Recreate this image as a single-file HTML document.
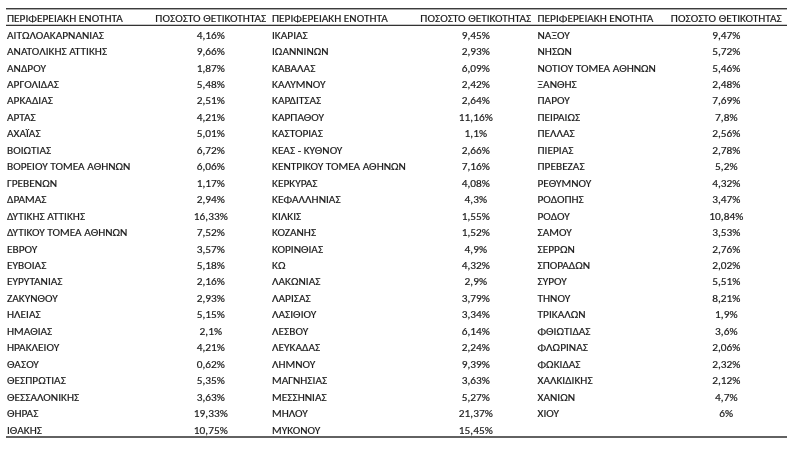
<!DOCTYPE html>
<html><head><meta charset="utf-8"><style>
html,body{margin:0;padding:0;background:#fff;}
body{width:812px;height:450px;position:relative;overflow:hidden;font-family:"Carlito","Liberation Sans",sans-serif;font-size:11.35px;color:#1a1a1a;}
#w{position:absolute;left:0;top:0;width:812px;height:450px;}
.t{position:absolute;white-space:nowrap;line-height:16.45px;height:16.45px;transform:scaleY(0.96);transform-origin:0 12.1px;-webkit-text-stroke:0.18px #1a1a1a;}
.c{position:absolute;white-space:nowrap;line-height:16.45px;height:16.45px;width:130px;text-align:center;transform:scaleY(0.96);transform-origin:0 12.1px;-webkit-text-stroke:0.18px #1a1a1a;}
.ln{position:absolute;left:6px;width:781px;height:1px;background:#3a3a3a;}
</style></head><body><div id="w">

<div class="ln" style="top:8px;height:1px;background:#3c3c3c"></div>
<div class="ln" style="top:9px;height:1px;background:#a8a8a8"></div>
<div class="ln" style="top:24px;height:1px;background:#c8c8c8"></div>
<div class="ln" style="top:25px;height:1px;background:#333333"></div>
<div class="ln" style="top:436px;height:2px;background:#626262"></div>
<div class="t" style="left:7px;top:10.0px">ΠΕΡΙΦΕΡΕΙΑΚΗ ΕΝΟΤΗΤΑ</div>
<div class="c" style="left:145.8px;top:10.0px">ΠΟΣΟΣΤΟ ΘΕΤΙΚΟΤΗΤΑΣ</div>
<div class="t" style="left:272px;top:10.0px">ΠΕΡΙΦΕΡΕΙΑΚΗ ΕΝΟΤΗΤΑ</div>
<div class="c" style="left:410.8px;top:10.0px">ΠΟΣΟΣΤΟ ΘΕΤΙΚΟΤΗΤΑΣ</div>
<div class="t" style="left:537.5px;top:10.0px">ΠΕΡΙΦΕΡΕΙΑΚΗ ΕΝΟΤΗΤΑ</div>
<div class="c" style="left:661.3px;top:10.0px">ΠΟΣΟΣΤΟ ΘΕΤΙΚΟΤΗΤΑΣ</div>
<div class="t" style="left:7px;top:26.6px">ΑΙΤΩΛΟΑΚΑΡΝΑΝΙΑΣ</div>
<div class="c" style="left:145.8px;top:26.6px">4,16%</div>
<div class="t" style="left:7px;top:43.058px">ΑΝΑΤΟΛΙΚΗΣ ΑΤΤΙΚΗΣ</div>
<div class="c" style="left:145.8px;top:43.058px">9,66%</div>
<div class="t" style="left:7px;top:59.516px">ΑΝΔΡΟΥ</div>
<div class="c" style="left:145.8px;top:59.516px">1,87%</div>
<div class="t" style="left:7px;top:75.974px">ΑΡΓΟΛΙΔΑΣ</div>
<div class="c" style="left:145.8px;top:75.974px">5,48%</div>
<div class="t" style="left:7px;top:92.432px">ΑΡΚΑΔΙΑΣ</div>
<div class="c" style="left:145.8px;top:92.432px">2,51%</div>
<div class="t" style="left:7px;top:108.89px">ΑΡΤΑΣ</div>
<div class="c" style="left:145.8px;top:108.89px">4,21%</div>
<div class="t" style="left:7px;top:125.348px">ΑΧΑΪΑΣ</div>
<div class="c" style="left:145.8px;top:125.348px">5,01%</div>
<div class="t" style="left:7px;top:141.806px">ΒΟΙΩΤΙΑΣ</div>
<div class="c" style="left:145.8px;top:141.806px">6,72%</div>
<div class="t" style="left:7px;top:158.264px">ΒΟΡΕΙΟΥ ΤΟΜΕΑ ΑΘΗΝΩΝ</div>
<div class="c" style="left:145.8px;top:158.264px">6,06%</div>
<div class="t" style="left:7px;top:174.722px">ΓΡΕΒΕΝΩΝ</div>
<div class="c" style="left:145.8px;top:174.722px">1,17%</div>
<div class="t" style="left:7px;top:191.18px">ΔΡΑΜΑΣ</div>
<div class="c" style="left:145.8px;top:191.18px">2,94%</div>
<div class="t" style="left:7px;top:207.638px">ΔΥΤΙΚΗΣ ΑΤΤΙΚΗΣ</div>
<div class="c" style="left:145.8px;top:207.638px">16,33%</div>
<div class="t" style="left:7px;top:224.096px">ΔΥΤΙΚΟΥ ΤΟΜΕΑ ΑΘΗΝΩΝ</div>
<div class="c" style="left:145.8px;top:224.096px">7,52%</div>
<div class="t" style="left:7px;top:240.554px">ΕΒΡΟΥ</div>
<div class="c" style="left:145.8px;top:240.554px">3,57%</div>
<div class="t" style="left:7px;top:257.012px">ΕΥΒΟΙΑΣ</div>
<div class="c" style="left:145.8px;top:257.012px">5,18%</div>
<div class="t" style="left:7px;top:273.47px">ΕΥΡΥΤΑΝΙΑΣ</div>
<div class="c" style="left:145.8px;top:273.47px">2,16%</div>
<div class="t" style="left:7px;top:289.928px">ΖΑΚΥΝΘΟΥ</div>
<div class="c" style="left:145.8px;top:289.928px">2,93%</div>
<div class="t" style="left:7px;top:306.386px">ΗΛΕΙΑΣ</div>
<div class="c" style="left:145.8px;top:306.386px">5,15%</div>
<div class="t" style="left:7px;top:322.844px">ΗΜΑΘΙΑΣ</div>
<div class="c" style="left:145.8px;top:322.844px">2,1%</div>
<div class="t" style="left:7px;top:339.302px">ΗΡΑΚΛΕΙΟΥ</div>
<div class="c" style="left:145.8px;top:339.302px">4,21%</div>
<div class="t" style="left:7px;top:355.76px">ΘΑΣΟΥ</div>
<div class="c" style="left:145.8px;top:355.76px">0,62%</div>
<div class="t" style="left:7px;top:372.218px">ΘΕΣΠΡΩΤΙΑΣ</div>
<div class="c" style="left:145.8px;top:372.218px">5,35%</div>
<div class="t" style="left:7px;top:388.676px">ΘΕΣΣΑΛΟΝΙΚΗΣ</div>
<div class="c" style="left:145.8px;top:388.676px">3,63%</div>
<div class="t" style="left:7px;top:405.134px">ΘΗΡΑΣ</div>
<div class="c" style="left:145.8px;top:405.134px">19,33%</div>
<div class="t" style="left:7px;top:421.592px">ΙΘΑΚΗΣ</div>
<div class="c" style="left:145.8px;top:421.592px">10,75%</div>
<div class="t" style="left:272px;top:26.6px">ΙΚΑΡΙΑΣ</div>
<div class="c" style="left:410.8px;top:26.6px">9,45%</div>
<div class="t" style="left:272px;top:43.058px">ΙΩΑΝΝΙΝΩΝ</div>
<div class="c" style="left:410.8px;top:43.058px">2,93%</div>
<div class="t" style="left:272px;top:59.516px">ΚΑΒΑΛΑΣ</div>
<div class="c" style="left:410.8px;top:59.516px">6,09%</div>
<div class="t" style="left:272px;top:75.974px">ΚΑΛΥΜΝΟΥ</div>
<div class="c" style="left:410.8px;top:75.974px">2,42%</div>
<div class="t" style="left:272px;top:92.432px">ΚΑΡΔΙΤΣΑΣ</div>
<div class="c" style="left:410.8px;top:92.432px">2,64%</div>
<div class="t" style="left:272px;top:108.89px">ΚΑΡΠΑΘΟΥ</div>
<div class="c" style="left:410.8px;top:108.89px">11,16%</div>
<div class="t" style="left:272px;top:125.348px">ΚΑΣΤΟΡΙΑΣ</div>
<div class="c" style="left:410.8px;top:125.348px">1,1%</div>
<div class="t" style="left:272px;top:141.806px">ΚΕΑΣ - ΚΥΘΝΟΥ</div>
<div class="c" style="left:410.8px;top:141.806px">2,66%</div>
<div class="t" style="left:272px;top:158.264px">ΚΕΝΤΡΙΚΟΥ ΤΟΜΕΑ ΑΘΗΝΩΝ</div>
<div class="c" style="left:410.8px;top:158.264px">7,16%</div>
<div class="t" style="left:272px;top:174.722px">ΚΕΡΚΥΡΑΣ</div>
<div class="c" style="left:410.8px;top:174.722px">4,08%</div>
<div class="t" style="left:272px;top:191.18px">ΚΕΦΑΛΛΗΝΙΑΣ</div>
<div class="c" style="left:410.8px;top:191.18px">4,3%</div>
<div class="t" style="left:272px;top:207.638px">ΚΙΛΚΙΣ</div>
<div class="c" style="left:410.8px;top:207.638px">1,55%</div>
<div class="t" style="left:272px;top:224.096px">ΚΟΖΑΝΗΣ</div>
<div class="c" style="left:410.8px;top:224.096px">1,52%</div>
<div class="t" style="left:272px;top:240.554px">ΚΟΡΙΝΘΙΑΣ</div>
<div class="c" style="left:410.8px;top:240.554px">4,9%</div>
<div class="t" style="left:272px;top:257.012px">ΚΩ</div>
<div class="c" style="left:410.8px;top:257.012px">4,32%</div>
<div class="t" style="left:272px;top:273.47px">ΛΑΚΩΝΙΑΣ</div>
<div class="c" style="left:410.8px;top:273.47px">2,9%</div>
<div class="t" style="left:272px;top:289.928px">ΛΑΡΙΣΑΣ</div>
<div class="c" style="left:410.8px;top:289.928px">3,79%</div>
<div class="t" style="left:272px;top:306.386px">ΛΑΣΙΘΙΟΥ</div>
<div class="c" style="left:410.8px;top:306.386px">3,34%</div>
<div class="t" style="left:272px;top:322.844px">ΛΕΣΒΟΥ</div>
<div class="c" style="left:410.8px;top:322.844px">6,14%</div>
<div class="t" style="left:272px;top:339.302px">ΛΕΥΚΑΔΑΣ</div>
<div class="c" style="left:410.8px;top:339.302px">2,24%</div>
<div class="t" style="left:272px;top:355.76px">ΛΗΜΝΟΥ</div>
<div class="c" style="left:410.8px;top:355.76px">9,39%</div>
<div class="t" style="left:272px;top:372.218px">ΜΑΓΝΗΣΙΑΣ</div>
<div class="c" style="left:410.8px;top:372.218px">3,63%</div>
<div class="t" style="left:272px;top:388.676px">ΜΕΣΣΗΝΙΑΣ</div>
<div class="c" style="left:410.8px;top:388.676px">5,27%</div>
<div class="t" style="left:272px;top:405.134px">ΜΗΛΟΥ</div>
<div class="c" style="left:410.8px;top:405.134px">21,37%</div>
<div class="t" style="left:272px;top:421.592px">ΜΥΚΟΝΟΥ</div>
<div class="c" style="left:410.8px;top:421.592px">15,45%</div>
<div class="t" style="left:537.5px;top:26.6px">ΝΑΞΟΥ</div>
<div class="c" style="left:661.3px;top:26.6px">9,47%</div>
<div class="t" style="left:537.5px;top:43.058px">ΝΗΣΩΝ</div>
<div class="c" style="left:661.3px;top:43.058px">5,72%</div>
<div class="t" style="left:537.5px;top:59.516px">ΝΟΤΙΟΥ ΤΟΜΕΑ ΑΘΗΝΩΝ</div>
<div class="c" style="left:661.3px;top:59.516px">5,46%</div>
<div class="t" style="left:537.5px;top:75.974px">ΞΑΝΘΗΣ</div>
<div class="c" style="left:661.3px;top:75.974px">2,48%</div>
<div class="t" style="left:537.5px;top:92.432px">ΠΑΡΟΥ</div>
<div class="c" style="left:661.3px;top:92.432px">7,69%</div>
<div class="t" style="left:537.5px;top:108.89px">ΠΕΙΡΑΙΩΣ</div>
<div class="c" style="left:661.3px;top:108.89px">7,8%</div>
<div class="t" style="left:537.5px;top:125.348px">ΠΕΛΛΑΣ</div>
<div class="c" style="left:661.3px;top:125.348px">2,56%</div>
<div class="t" style="left:537.5px;top:141.806px">ΠΙΕΡΙΑΣ</div>
<div class="c" style="left:661.3px;top:141.806px">2,78%</div>
<div class="t" style="left:537.5px;top:158.264px">ΠΡΕΒΕΖΑΣ</div>
<div class="c" style="left:661.3px;top:158.264px">5,2%</div>
<div class="t" style="left:537.5px;top:174.722px">ΡΕΘΥΜΝΟΥ</div>
<div class="c" style="left:661.3px;top:174.722px">4,32%</div>
<div class="t" style="left:537.5px;top:191.18px">ΡΟΔΟΠΗΣ</div>
<div class="c" style="left:661.3px;top:191.18px">3,47%</div>
<div class="t" style="left:537.5px;top:207.638px">ΡΟΔΟΥ</div>
<div class="c" style="left:661.3px;top:207.638px">10,84%</div>
<div class="t" style="left:537.5px;top:224.096px">ΣΑΜΟΥ</div>
<div class="c" style="left:661.3px;top:224.096px">3,53%</div>
<div class="t" style="left:537.5px;top:240.554px">ΣΕΡΡΩΝ</div>
<div class="c" style="left:661.3px;top:240.554px">2,76%</div>
<div class="t" style="left:537.5px;top:257.012px">ΣΠΟΡΑΔΩΝ</div>
<div class="c" style="left:661.3px;top:257.012px">2,02%</div>
<div class="t" style="left:537.5px;top:273.47px">ΣΥΡΟΥ</div>
<div class="c" style="left:661.3px;top:273.47px">5,51%</div>
<div class="t" style="left:537.5px;top:289.928px">ΤΗΝΟΥ</div>
<div class="c" style="left:661.3px;top:289.928px">8,21%</div>
<div class="t" style="left:537.5px;top:306.386px">ΤΡΙΚΑΛΩΝ</div>
<div class="c" style="left:661.3px;top:306.386px">1,9%</div>
<div class="t" style="left:537.5px;top:322.844px">ΦΘΙΩΤΙΔΑΣ</div>
<div class="c" style="left:661.3px;top:322.844px">3,6%</div>
<div class="t" style="left:537.5px;top:339.302px">ΦΛΩΡΙΝΑΣ</div>
<div class="c" style="left:661.3px;top:339.302px">2,06%</div>
<div class="t" style="left:537.5px;top:355.76px">ΦΩΚΙΔΑΣ</div>
<div class="c" style="left:661.3px;top:355.76px">2,32%</div>
<div class="t" style="left:537.5px;top:372.218px">ΧΑΛΚΙΔΙΚΗΣ</div>
<div class="c" style="left:661.3px;top:372.218px">2,12%</div>
<div class="t" style="left:537.5px;top:388.676px">ΧΑΝΙΩΝ</div>
<div class="c" style="left:661.3px;top:388.676px">4,7%</div>
<div class="t" style="left:537.5px;top:405.134px">ΧΙΟΥ</div>
<div class="c" style="left:661.3px;top:405.134px">6%</div>
</div></body></html>
